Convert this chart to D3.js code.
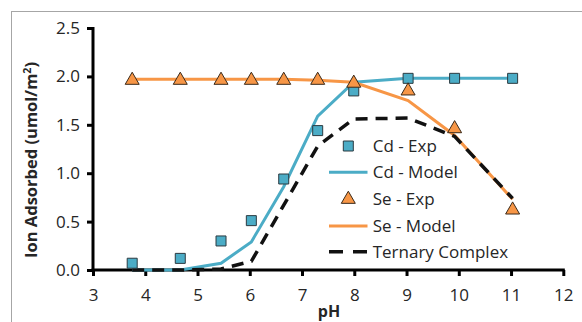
<!DOCTYPE html>
<html><head><meta charset="utf-8">
<script src="https://cdnjs.cloudflare.com/ajax/libs/d3/7.8.5/d3.min.js"></script>
<style>body{margin:0;background:#fff}svg{display:block}text{font-family:"Open Sans",sans-serif;fill:#262626}</style>
</head><body>
<script>
const pH        = [3.75, 4.67, 5.45, 6.03, 6.65, 7.30, 7.99, 9.03, 9.92, 11.03];
const cdExp     = [0.07, 0.12, 0.30, 0.51, 0.94, 1.44, 1.85, 1.98, 1.98, 1.98];
const cdModel   = [0.00, 0.00, 0.07, 0.29, 0.86, 1.59, 1.94, 1.98, 1.98, 1.98];
const seExp     = [1.96, 1.96, 1.96, 1.96, 1.96, 1.96, 1.93, 1.85, 1.46, 0.62];
const seModel   = [1.97, 1.97, 1.97, 1.97, 1.97, 1.96, 1.94, 1.75, 1.39, 0.73];
const ternary   = [0.00, 0.00, 0.01, 0.09, 0.67, 1.28, 1.56, 1.57, 1.38, 0.74];
const xTicks    = [3,4,5,6,7,8,9,10,11,12];
const yTicks    = [0,0.5,1.0,1.5,2.0,2.5];
const legendLabels = ["Cd - Exp","Cd - Model","Se - Exp","Se - Model","Ternary Complex"];

const W=582,H=322;
const blue="#4BACC6", orange="#F79646";
const svg=d3.select("body").append("svg").attr("width",W).attr("height",H);
svg.append("rect").attr("x",11.5).attr("y",11.5).attr("width",640).attr("height",400)
  .attr("fill","none").attr("stroke","#a6a6a6").attr("stroke-width",1);

const x=d3.scaleLinear().domain([3,12]).range([93,563.3]);
const y=d3.scaleLinear().domain([0,2.5]).range([270,28]);

// axes
const yAxis=d3.axisLeft(y).tickValues(yTicks).tickFormat(d3.format(".1f")).tickSize(6).tickPadding(7);
const gy=svg.append("g").attr("transform","translate(93,0)").call(yAxis);
gy.select(".domain").attr("stroke","#000").attr("stroke-width",3).attr("d","M0,"+(y(2.5)-1)+"V"+(y(0)+1.5));
gy.selectAll(".tick line").attr("stroke","#000").attr("stroke-width",3);
gy.selectAll(".tick text").attr("font-size",17).attr("fill","#262626").attr("font-family","Open Sans");

const xAxis=d3.axisBottom(x).tickValues(xTicks).tickFormat(d3.format("d")).tickSize(6).tickPadding(13);
const gx=svg.append("g").attr("transform","translate(0,270)").call(xAxis);
gx.select(".domain").attr("stroke","#000").attr("stroke-width",3).attr("d","M"+(x(3)-1.5)+",0H"+(x(12)+1.5));
gx.selectAll(".tick line").attr("stroke","#000").attr("stroke-width",3);
gx.selectAll(".tick text").attr("font-size",17).attr("fill","#262626").attr("font-family","Open Sans");

// titles
svg.append("text").attr("transform","translate(37,160) rotate(-90)").attr("text-anchor","middle")
  .attr("font-size",16.5).attr("font-weight","bold")
  .html('Ion Adsorbed (umol/m<tspan dy="-6" font-size="10.5">2</tspan><tspan dy="6">)</tspan>');
svg.append("text").attr("x",329).attr("y",317).attr("text-anchor","middle")
  .attr("font-size",16).attr("font-weight","bold").text("pH");

const line=d3.line().x(d=>x(d[0])).y(d=>y(d[1]));
const zip=a=>pH.map((p,i)=>[p,a[i]]);

svg.append("path").datum(zip(cdModel)).attr("d",line).attr("fill","none").attr("stroke",blue).attr("stroke-width",3);
svg.append("path").datum(zip(seModel)).attr("d",line).attr("fill","none").attr("stroke",orange).attr("stroke-width",3);
svg.append("path").datum(zip(ternary)).attr("d",line).attr("fill","none").attr("stroke","#111").attr("stroke-width",3.5).attr("stroke-dasharray","12,8");

const sq=d3.symbol().type(d3.symbolSquare).size(100);
const tri=d3.symbol().type(d3.symbolTriangle).size(85);
svg.append("g").selectAll("path").data(zip(cdExp)).join("path")
  .attr("d",sq).attr("transform",d=>`translate(${x(d[0])},${y(d[1])})`)
  .attr("fill",blue).attr("stroke","#2b3a40").attr("stroke-width",1);
svg.append("g").selectAll("path").data(zip(seExp)).join("path")
  .attr("d",tri).attr("transform",d=>`translate(${x(d[0])},${y(d[1])})`)
  .attr("fill",orange).attr("stroke","#3a2a1a").attr("stroke-width",1);

// legend
const ly=[146,172.3,199.3,226,251.7];
const lg=svg.append("g");
legendLabels.forEach((t,i)=>{
  const yy=ly[i];
  if(i===0) lg.append("path").attr("d",sq).attr("transform",`translate(348.3,${yy})`).attr("fill",blue).attr("stroke","#2b3a40");
  if(i===1) lg.append("line").attr("x1",329).attr("x2",367.5).attr("y1",yy).attr("y2",yy).attr("stroke",blue).attr("stroke-width",3);
  if(i===2) lg.append("path").attr("d",tri).attr("transform",`translate(348.3,${yy})`).attr("fill",orange).attr("stroke","#3a2a1a");
  if(i===3) lg.append("line").attr("x1",329).attr("x2",367.5).attr("y1",yy).attr("y2",yy).attr("stroke",orange).attr("stroke-width",3);
  if(i===4) lg.append("line").attr("x1",329).attr("x2",367.5).attr("y1",yy).attr("y2",yy).attr("stroke","#111").attr("stroke-width",3.5).attr("stroke-dasharray","14,10");
  lg.append("text").attr("x",372.7).attr("y",yy+6).attr("font-size",17).text(t);
});
</script>
</body></html>
